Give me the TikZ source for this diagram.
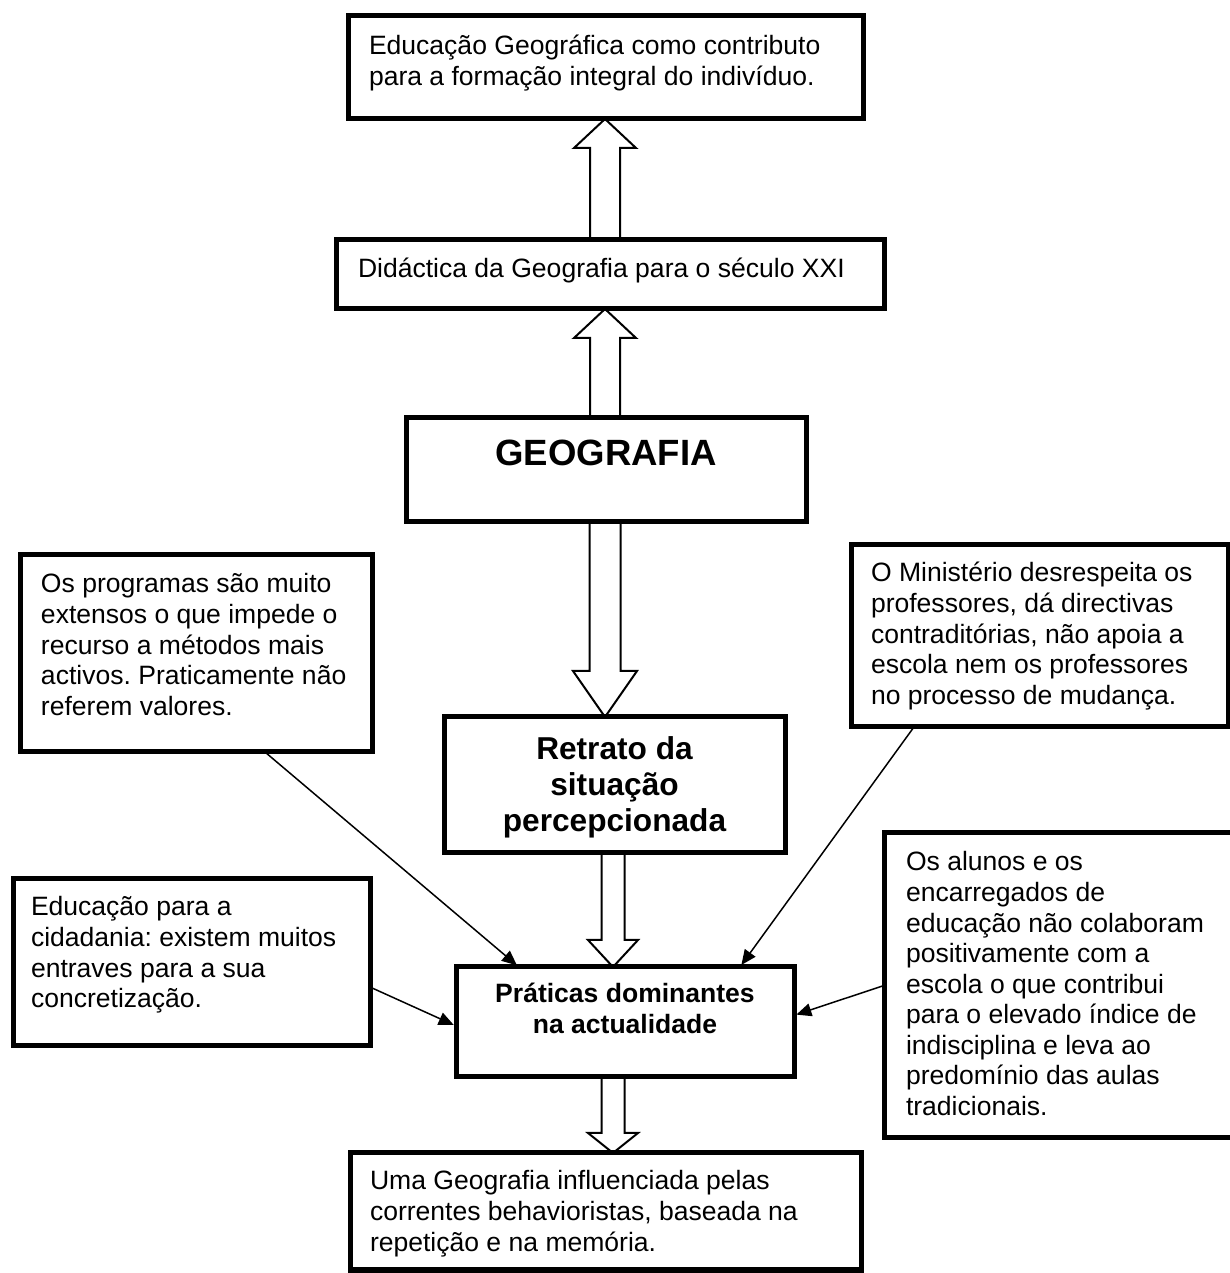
\documentclass[tikz,border=0pt]{standalone}
\usepackage{fontspec}
\setmainfont{Liberation Sans}
\usepackage{tikz}
\usetikzlibrary{arrows.meta,calc,backgrounds}
\frenchspacing
\tikzstyle{caixa}=[draw, line width=0.1cm, inner sep=0pt, outer sep=0pt]
\tikzstyle{seta}=[draw, fill=white, line width=0.04cm]
\tikzstyle{liga}=[-{Triangle[length=0.3cm,width=0.26cm]}, line width=0.03cm, shorten >=0.05cm]
\newcommand{\texto}{\fontsize{15.1pt}{17.4pt}\selectfont}
% width, height, top gap, alignment, text
\newcommand{\conteudo}[5]{\vbox to #2{\hsize=#1\relax #4\vskip #3\leavevmode\strut #5\par\vfil}}
% tail, tip, shaft half width, head half width, head length
\newcommand{\setaoca}[5]{%
  \coordinate (sa) at (#1); \coordinate (sb) at (#2);
  \coordinate (sc) at ($(sb)!#5!(sa)$);
  \path[seta] ($(sa)!#3!90:(sb)$) -- ($(sc)!#3!90:(sb)$) -- ($(sc)!#4!90:(sb)$) -- (sb)
    -- ($(sc)!#4!-90:(sb)$) -- ($(sc)!#3!-90:(sb)$) -- ($(sa)!#3!-90:(sb)$);
}

\begin{document}
\begin{tikzpicture}
	\useasboundingbox (0cm,0cm) rectangle (24.6cm,25.46cm);
	\coordinate (eixo) at (12.1cm,0cm);
	\coordinate (eixob) at (12.26cm,0cm);
	\node[caixa, font=\texto] (topo) at (12.11cm,24.11cm) {\conteudo{10.3cm}{2.06cm}{0.352cm}{\raggedright\leftskip=0.42cm}{Educação Geográfica como contributo\\ para a formação integral do indivíduo.}};
	\node[caixa, font=\texto] (didac) at (12.2cm,19.97cm) {\conteudo{10.96cm}{1.38cm}{0.33cm}{\raggedright\leftskip=0.44cm}{Didáctica da Geografia para o século XXI}};
	\node[caixa, font=\fontsize{20.8pt}{24pt}\selectfont\bfseries] (geo) at (12.12cm,16.06cm) {\conteudo{8cm}{2.08cm}{0.368cm}{\centering}{GEOGRAFIA}};
	\node[caixa, font=\texto] (progr) at (3.93cm,12.39cm) {\conteudo{7.02cm}{3.94cm}{0.33cm}{\raggedright\leftskip=0.4cm}{Os programas são muito\\ extensos o que impede o\\ recurso a métodos mais\\ activos. Praticamente não\\ referem valores.}};
	\node[caixa, font=\texto] (minis) at (20.79cm,12.74cm) {\conteudo{7.54cm}{3.64cm}{0.31cm}{\raggedright\leftskip=0.4cm}{O Ministério desrespeita os\\ professores, dá directivas\\ contraditórias, não apoia a\\ escola nem os professores\\ no processo de mudança.}};
	\node[caixa, font=\fontsize{18pt}{20.5pt}\selectfont\bfseries] (retr) at (12.29cm,9.76cm) {\conteudo{6.82cm}{2.72cm}{0.346cm}{\centering}{Retrato da\\ situação\\ percepcionada}};
	\node[caixa, font=\texto] (cidad) at (3.83cm,6.21cm) {\conteudo{7.14cm}{3.34cm}{0.31cm}{\raggedright\leftskip=0.36cm}{Educação para a\\ cidadania: existem muitos\\ entraves para a sua\\ concretização.}};
	\node[caixa, font=\texto\bfseries] (prat) at (12.5cm,5.02cm) {\conteudo{6.76cm}{2.2cm}{0.29cm}{\centering}{Práticas dominantes\\ na actualidade}};
	\node[caixa, font=\texto] (alunos) at (21.22cm,5.75cm) {\conteudo{7.08cm}{6.1cm}{0.33cm}{\raggedright\leftskip=0.44cm}{Os alunos e os\\ encarregados de\\ educação não colaboram\\ positivamente com a\\ escola o que contribui\\ para o elevado índice de\\ indisciplina e leva ao\\ predomínio das aulas\\ tradicionais.}};
	\node[caixa, font=\texto] (base) at (12.11cm,1.23cm) {\conteudo{10.22cm}{2.34cm}{0.31cm}{\raggedright\leftskip=0.4cm}{Uma Geografia influenciada pelas\\ correntes behavioristas, baseada na\\ repetição e na memória.}};
	% hollow arrows behind the boxes
	\begin{scope}[on background layer]
		\setaoca{eixo |- didac.north}{eixo |- topo.south}{0.3cm}{0.62cm}{0.58cm}
		\setaoca{eixo |- geo.north}{eixo |- didac.south}{0.3cm}{0.62cm}{0.58cm}
		\setaoca{eixo |- geo.south}{eixo |- retr.north}{0.31cm}{0.64cm}{0.92cm}
		\setaoca{eixob |- retr.south}{eixob |- prat.north}{0.23cm}{0.5cm}{0.54cm}
		\setaoca{eixob |- prat.south}{eixob |- base.north}{0.23cm}{0.5cm}{0.4cm}
	\end{scope}
	\draw[liga] ($(progr.south west)!0.695!(progr.south east)$) -- ($(prat.north west)!0.186!(prat.north east)$);
	\draw[liga] ($(minis.south west)!0.167!(minis.south east)$) -- ($(prat.north west)!0.84!(prat.north east)$);
	\draw[liga] ($(cidad.north east)!0.647!(cidad.south east)$) -- ($(prat.north west)!0.536!(prat.south west)$);
	\draw[liga] (alunos.west) -- ($(prat.north east)!0.44!(prat.south east)$);
\end{tikzpicture}
\end{document}
